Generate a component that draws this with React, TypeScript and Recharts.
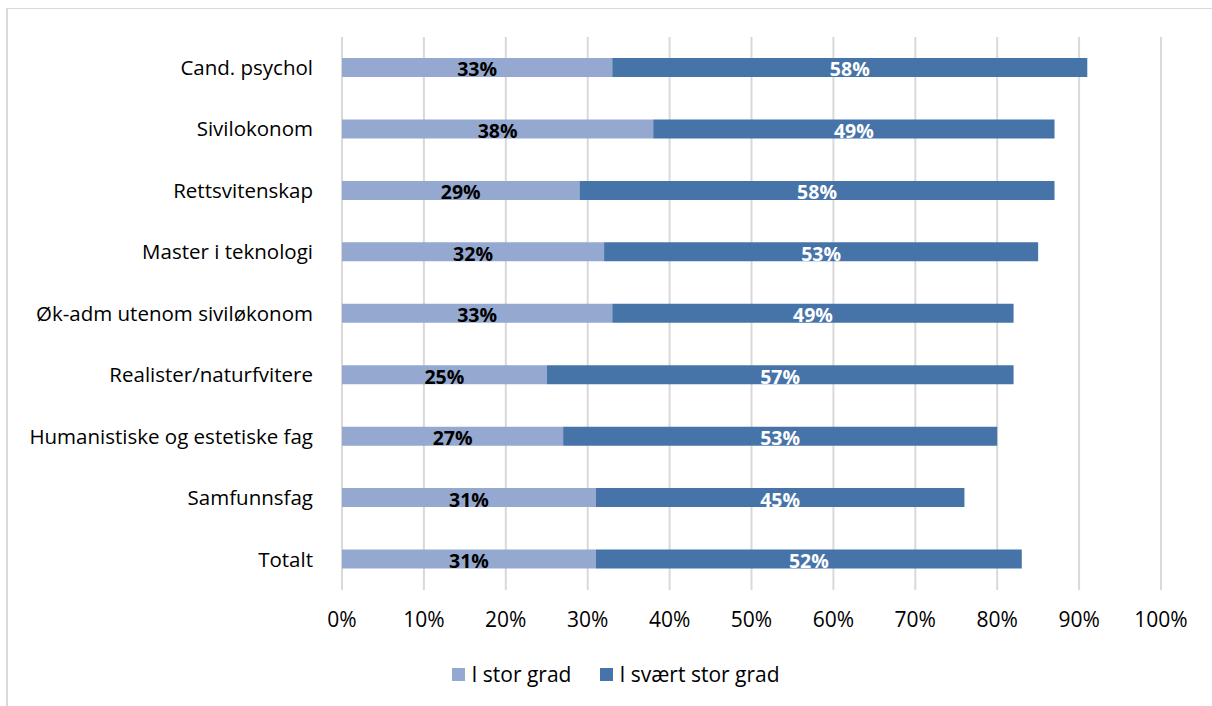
import React from "react";
import { BarChart, Bar, XAxis, YAxis, CartesianGrid, LabelList } from "recharts";

const categories = [
  "Cand. psychol",
  "Sivilokonom",
  "Rettsvitenskap",
  "Master i teknologi",
  "Øk-adm utenom siviløkonom",
  "Realister/naturfvitere",
  "Humanistiske og estetiske fag",
  "Samfunnsfag",
  "Totalt",
];
const storGrad = [33, 38, 29, 32, 33, 25, 27, 31, 31];
const svaertStorGrad = [58, 49, 58, 53, 49, 57, 53, 45, 52];
const seriesNames = ["I stor grad", "I svært stor grad"];
const xTicks = [0, 10, 20, 30, 40, 50, 60, 70, 80, 90, 100];

const LIGHT = "#95a9d0";
const DARK = "#4674a9";
const FONT = "'Open Sans', Lato, sans-serif";
const FS_Y = 20.5;
const FS_X = 21;
const FS_L = 19.5;

const data = categories.map((c, i) => ({
  name: c,
  a: storGrad[i],
  b: svaertStorGrad[i],
}));

export default function App() {
  return (
    <div
      style={{
        position: "absolute",
        left: 0,
        top: 0,
        width: 1212,
        height: 706,
        overflow: "hidden",
        background: "#fff",
        fontFamily: FONT,
      }}
    >
      <div
        style={{
          position: "absolute",
          left: 6,
          top: 8,
          width: 1400,
          height: 900,
          borderTop: "1px solid #d9d9d9",
          borderLeft: "2px solid #d9d9d9",
        }}
      />
      <div style={{ position: "absolute", left: 0, top: 0 }}>
        <BarChart
          width={1212}
          height={706}
          data={data}
          layout="vertical"
          margin={{ top: 37, right: 51, bottom: 86, left: 12 }}
          barSize={19}
        >
          <CartesianGrid horizontal={false} stroke="#d9d9d9" strokeWidth={2} />
          <XAxis
            type="number"
            domain={[0, 100]}
            ticks={xTicks}
            tickFormatter={(v: number) => `${v}%`}
            axisLine={false}
            tickLine={false}
            tickSize={0}
            tickMargin={22}
            height={30}
            interval={0}
            tick={{ fill: "#000", fontSize: FS_X, fontFamily: FONT }}
          />
          <YAxis
            type="category"
            dataKey="name"
            width={330}
            axisLine={false}
            tickLine={false}
            tickSize={0}
            tickMargin={29}
            interval={0}
            tick={{ fill: "#000", fontSize: FS_Y, fontFamily: FONT }}
          />
          <Bar dataKey="a" stackId="s" fill={LIGHT} isAnimationActive={false} name={seriesNames[0]}>
            <LabelList
              dataKey="a"
              position="center"
              formatter={(v: number) => `${v}%`}
              style={{ fill: "#000", fontWeight: 700, fontSize: FS_L, fontFamily: FONT }}
              dy={2}
            />
          </Bar>
          <Bar dataKey="b" stackId="s" fill={DARK} isAnimationActive={false} name={seriesNames[1]}>
            <LabelList
              dataKey="b"
              position="center"
              formatter={(v: number) => `${v}%`}
              style={{ fill: "#fff", fontWeight: 700, fontSize: FS_L, fontFamily: FONT }}
              dy={2}
            />
          </Bar>
        </BarChart>
      </div>
      <div
        style={{
          position: "absolute",
          top: 660,
          left: 0,
          width: 1212,
          display: "flex",
          justifyContent: "center",
          paddingLeft: 20,
          boxSizing: "border-box",
          fontSize: FS_X,
          color: "#000",
          lineHeight: "28px",
        }}
      >
        {seriesNames.map((n, i) => (
          <div key={n} style={{ display: "flex", alignItems: "center", marginRight: i === 0 ? 29 : 0 }}>
            <span
              style={{
                display: "inline-block",
                width: 13,
                height: 13,
                background: i === 0 ? LIGHT : DARK,
                marginRight: 6,
              }}
            />
            <span>{n}</span>
          </div>
        ))}
      </div>
    </div>
  );
}
